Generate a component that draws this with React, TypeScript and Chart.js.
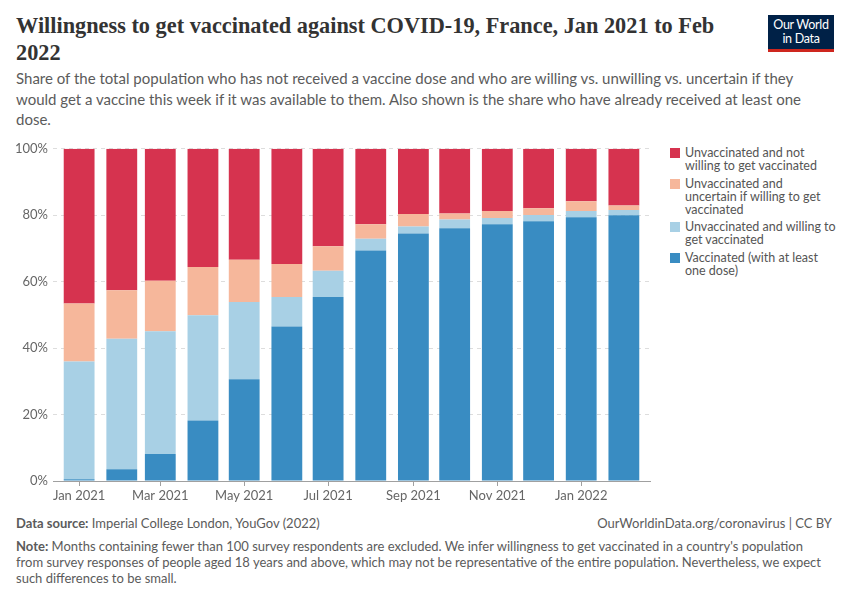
import React, { useEffect, useRef } from "react";
import { Chart, registerables } from "chart.js";

Chart.register(...registerables);

// ---- Data ----
const months = [
  "2021-01", "2021-02", "2021-03", "2021-04", "2021-05", "2021-06", "2021-07",
  "2021-08", "2021-09", "2021-10", "2021-11", "2021-12", "2022-01", "2022-02",
];

const vaccinated = [0.5, 3.5, 8.1, 18.2, 30.6, 46.5, 55.4, 69.4, 74.5, 76.1, 77.3, 78.2, 79.4, 80.0];
const willing = [35.5, 39.3, 37.0, 31.7, 23.3, 8.9, 7.9, 3.5, 2.1, 2.6, 1.9, 1.9, 1.9, 1.6];
const uncertain = [17.4, 14.6, 15.2, 14.5, 12.7, 9.9, 7.4, 4.4, 3.8, 1.8, 2.1, 2.0, 2.9, 1.3];
const unwilling = [46.6, 42.6, 39.7, 35.6, 33.4, 34.7, 29.3, 22.7, 19.6, 19.5, 18.7, 17.9, 15.8, 17.1];

const tickMonths = ["2021-01", "2021-03", "2021-05", "2021-07", "2021-09", "2021-11", "2022-01"];
const tickLabels = ["Jan 2021", "Mar 2021", "May 2021", "Jul 2021", "Sep 2021", "Nov 2021", "Jan 2022"];
const yTicks = [0, 20, 40, 60, 80, 100];

const legendLines = [
  ["Unvaccinated and not", "willing to get vaccinated"],
  ["Unvaccinated and", "uncertain if willing to get", "vaccinated"],
  ["Unvaccinated and willing to", "get vaccinated"],
  ["Vaccinated (with at least", "one dose)"],
];
const colors = ["#d6334f", "#f6b79b", "#a8d0e5", "#398cc2"];

const DAY = 86400000;
const origin = Date.UTC(2021, 0, 1);
const toDay = (m: string) => {
  const [y, mo] = m.split("-").map(Number);
  return Math.round((Date.UTC(y, mo - 1, 1) - origin) / DAY);
};

const FONT = "Lato, 'Noto Sans', sans-serif";

export default function App() {
  const ref = useRef<HTMLCanvasElement | null>(null);

  useEffect(() => {
    document.body.style.margin = "0";
    const xs = months.map(toDay);
    const tickDays = tickMonths.map(toDay);
    const series = [vaccinated, willing, uncertain, unwilling];
    const order = [3, 2, 1, 0]; // legend index per series (bottom -> top)
    const datasets = series.map((vals, i) => ({
      label: legendLines[order[i]].join(" "),
      data: vals.map((v, j) => ({ x: xs[j], y: v })),
      backgroundColor: colors[order[i]],
      borderWidth: 0,
      categoryPercentage: 1,
      barPercentage: 0.8,
    }));

    const chart = new Chart(ref.current!, {
      type: "bar",
      data: { datasets },
      options: {
        animation: false,
        responsive: false,
        maintainAspectRatio: false,
        layout: { padding: { top: 0, right: 10, left: 0, bottom: 0 } },
        plugins: { legend: { display: false }, tooltip: { enabled: false } },
        scales: {
          x: {
            type: "linear",
            stacked: true,
            offset: false,
            min: -19,
            max: 415,
            afterBuildTicks: (scale: any) => {
              scale.ticks = tickDays.map((v) => ({ value: v }));
            },
            afterFit: (scale: any) => {
              scale.height = 29;
            },
            ticks: {
              autoSkip: false,
              maxRotation: 0,
              padding: 2,
              color: "#666",
              font: { family: FONT, size: 13 },
              callback: (_v: any, i: number) => tickLabels[i],
            },
            grid: {
              offset: false,
              drawOnChartArea: false,
              drawTicks: true,
              tickLength: 5,
              tickColor: "#a0a0a0",
            },
            border: { display: true, color: "#a0a0a0", width: 1 },
          },
          y: {
            stacked: true,
            min: 0,
            max: 100,
            afterBuildTicks: (scale: any) => {
              scale.ticks = yTicks.map((v) => ({ value: v }));
            },
            afterFit: (scale: any) => {
              scale.width = 53;
            },
            ticks: {
              padding: 5,
              color: "#666",
              font: { family: FONT, size: 13 },
              callback: (v: any) => v + "%",
            },
            grid: { color: "#dddddd", drawTicks: false, lineWidth: 1 },
            border: { display: false, dash: [4, 4] },
          },
        },
      },
    } as any);
    return () => chart.destroy();
  }, []);

  return (
    <div style={{ position: "relative", width: 850, height: 600, background: "#fff", fontFamily: FONT, overflow: "hidden" }}>
      <div
        style={{
          position: "absolute", left: 16, top: 12, fontFamily: "'Liberation Serif', 'DejaVu Serif', serif",
          fontSize: 22.3, fontWeight: 700, color: "#333", lineHeight: "27px", whiteSpace: "nowrap",
        }}
      >
        Willingness to get vaccinated against COVID-19, France, Jan 2021 to Feb
        <br />
        2022
      </div>
      <div
        style={{
          position: "absolute", left: 768, top: 15, width: 66, height: 37, background: "#002147",
          borderBottom: "3px solid #ce261e", boxSizing: "border-box", color: "#fff", fontSize: 12.5,
          lineHeight: "14px", textAlign: "center", paddingTop: 3, fontFamily: "Lato, sans-serif", letterSpacing: -0.3,
        }}
      >
        Our World
        <br />
        in Data
      </div>
      <div
        style={{
          position: "absolute", left: 16, top: 68, fontSize: 15, lineHeight: "20.5px", color: "#5b5b5b", whiteSpace: "nowrap",
        }}
      >
        Share of the total population who has not received a vaccine dose and who are willing vs. unwilling vs. uncertain if they
        <br />
        would get a vaccine this week if it was available to them. Also shown is the share who have already received at least one
        <br />
        dose.
      </div>

      <canvas ref={ref} width={660} height={374} style={{ position: "absolute", left: 0, top: 136, width: 660, height: 374 }} />

      <div style={{ position: "absolute", left: 670, top: 146, width: 175 }}>
        {legendLines.map((lines, i) => (
          <div key={i} style={{ display: "flex", alignItems: "flex-start", marginBottom: 4.5 }}>
            <div style={{ width: 10, height: 10, background: colors[i], marginTop: 2, marginRight: 5, flex: "none" }} />
            <div style={{ fontSize: 12.5, lineHeight: "13px", color: "#555", whiteSpace: "nowrap" }}>
              {lines.map((l, k) => (
                <div key={k}>{l}</div>
              ))}
            </div>
          </div>
        ))}
      </div>

      <div style={{ position: "absolute", left: 16, top: 515, fontSize: 13, color: "#5b5b5b", lineHeight: "16px", whiteSpace: "nowrap" }}>
        <b style={{ fontWeight: 700 }}>Data source:</b> Imperial College London, YouGov (2022)
      </div>
      <div style={{ position: "absolute", right: 18, top: 515, fontSize: 13, color: "#5b5b5b", lineHeight: "16px", whiteSpace: "nowrap" }}>
        OurWorldinData.org/coronavirus | CC BY
      </div>
      <div style={{ position: "absolute", left: 16, top: 538, fontSize: 13, color: "#5b5b5b", lineHeight: "16px", whiteSpace: "nowrap" }}>
        <b style={{ fontWeight: 700 }}>Note:</b> Months containing fewer than 100 survey respondents are excluded. We infer willingness to get vaccinated in a country's population
        <br />
        from survey responses of people aged 18 years and above, which may not be representative of the entire population. Nevertheless, we expect
        <br />
        such differences to be small.
      </div>
    </div>
  );
}
